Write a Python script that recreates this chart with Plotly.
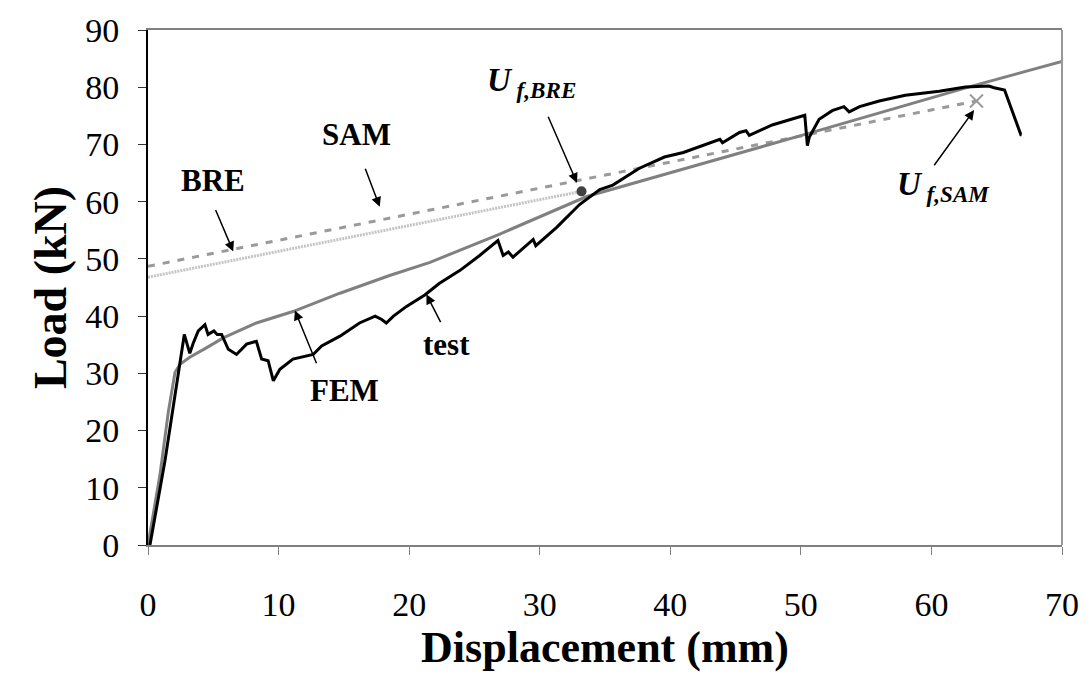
import plotly.graph_objects as go

# ---- data ----
test_x = [0.15, 0.66, 1.3, 1.68, 2.2, 2.5, 2.78, 3.2, 3.47, 3.85, 4.36, 4.6, 5.05, 5.3, 5.64, 6.15, 6.78,
          7.55, 8.3, 8.7, 9.2, 9.6, 10.1, 11.1, 12.1, 12.65, 13.3, 14.7, 16.2, 17.4, 17.9, 18.25, 18.8,
          19.8, 21.2, 22.3, 23.9, 25.4, 26.8, 27.2, 27.6, 27.95, 29.5, 29.7, 31.3, 33.05, 34.6, 35.6,
          37.6, 39.55, 41.0, 42.5, 43.8, 44.0, 45.3, 45.8, 46.05, 47.8, 49.6, 50.3, 50.5, 50.65, 51.4,
          52.4, 53.3, 53.7, 54.5, 56.0, 58.0, 60.6, 62.6, 64.4, 64.8, 65.6, 66.85, 66.9]
test_y = [0.0, 6.6, 14.7, 20.4, 27.9, 32.5, 36.8, 33.5, 35.3, 37.4, 38.5, 36.8, 37.4, 36.8, 36.8, 34.2, 33.3,
          35.1, 35.6, 32.5, 32.2, 28.7, 30.7, 32.5, 33.1, 33.3, 34.8, 36.5, 38.8, 40.0, 39.4, 38.8, 40.0,
          41.7, 43.7, 45.7, 48.0, 50.6, 53.2, 50.6, 51.2, 50.3, 53.4, 52.3, 55.5, 59.5, 62.1, 62.9,
          65.8, 67.8, 68.6, 69.8, 70.9, 70.3, 72.1, 72.4, 71.6, 73.4, 74.7, 75.1, 69.8, 71.3, 74.4,
          75.9, 76.6, 75.7, 76.6, 77.6, 78.6, 79.3, 80.05, 80.2, 79.9, 79.5, 71.7, 71.7]

fem_x = [0.0, 0.92, 1.56, 2.07, 2.45, 3.2, 4.5, 5.76, 8.3, 11.1, 14.7, 18.5, 21.6, 26.9, 33.6, 37.6,
         50.4, 63.1, 70.0]
fem_y = [0.0, 12.3, 23.3, 30.2, 31.6, 32.8, 34.5, 36.2, 38.8, 40.8, 44.0, 47.1, 49.4, 54.3, 60.9, 63.5,
         71.8, 80.2, 84.5]

bre_x = [0.0, 33.2]
bre_y = [46.8, 61.8]

sam_x = [0.0, 63.45]
sam_y = [48.7, 77.6]

x_ticks = [0, 10, 20, 30, 40, 50, 60, 70]
y_ticks = [0, 10, 20, 30, 40, 50, 60, 70, 80, 90]

FONT = "Liberation Serif, Times New Roman, serif"

fig = go.Figure()
fig.add_trace(go.Scatter(x=bre_x, y=bre_y, mode="lines",
                         line=dict(color="#c4c4c4", width=3, dash="2px,1px"), showlegend=False))
fig.add_trace(go.Scatter(x=sam_x, y=sam_y, mode="lines",
                         line=dict(color="#9a9a9a", width=3, dash="7px,8px"), showlegend=False))
fig.add_trace(go.Scatter(x=fem_x, y=fem_y, mode="lines",
                         line=dict(color="#808080", width=3), showlegend=False))
fig.add_trace(go.Scatter(x=test_x, y=test_y, mode="lines",
                         line=dict(color="#000000", width=3), showlegend=False))
fig.add_trace(go.Scatter(x=[bre_x[-1]], y=[bre_y[-1]], mode="markers",
                         marker=dict(color="#404040", size=10, symbol="circle"), showlegend=False))
fig.add_trace(go.Scatter(x=[sam_x[-1]], y=[sam_y[-1]], mode="markers",
                         marker=dict(color="#9a9a9a", size=13, symbol="x-thin",
                                     line=dict(color="#9a9a9a", width=2)), showlegend=False))

# frame: right edge in grey
fig.add_shape(type="line", xref="paper", yref="paper", x0=1, x1=1, y0=0, y1=1,
              line=dict(color="#999999", width=2))

arrows = [
    ((6.53, 51.3), (5.13, 58.8)),    # BRE
    ((17.75, 59.1), (16.6, 66.0)),   # SAM
    ((32.85, 63.3), (30.6, 75.1)),   # U f,BRE
    ((11.25, 41.0), (12.95, 31.5)),  # FEM
    ((21.32, 43.8), (22.47, 38.7)),  # test
    ((63.27, 76.0), (60.13, 66.1)),  # U f,SAM
]
for (hx, hy), (tx, ty) in arrows:
    fig.add_annotation(x=hx, y=hy, ax=tx, ay=ty, xref="x", yref="y", axref="x", ayref="y",
                       showarrow=True, arrowhead=2, arrowsize=1.3, arrowwidth=1.5,
                       arrowcolor="black", text="")

labels = [
    ("BRE", 5.0, 63.7),
    ("SAM", 15.97, 71.7),
    ("FEM", 15.07, 27.0),
    ("test", 22.85, 35.0),
]
for t, x, y in labels:
    fig.add_annotation(x=x, y=y, xref="x", yref="y", text=f"<b>{t}</b>", showarrow=False,
                       font=dict(family=FONT, size=31, color="black"))

fig.add_annotation(x=25.8, y=80.9, xref="x", yref="y", xanchor="left", yanchor="middle",
                   text="<b><i>U</i></b><sub><b><i> f,BRE</i></b></sub>", showarrow=False,
                   font=dict(family=FONT, size=33, color="black"))
fig.add_annotation(x=57.2, y=62.7, xref="x", yref="y", xanchor="left", yanchor="middle",
                   text="<b><i>U</i></b><sub><b><i> f,SAM</i></b></sub>", showarrow=False,
                   font=dict(family=FONT, size=33, color="black"))

fig.update_layout(
    width=1091, height=677,
    margin=dict(l=148, r=28, t=22, b=132),
    plot_bgcolor="white", paper_bgcolor="white",
    font=dict(family=FONT, color="black"),
    xaxis=dict(range=[0, 70], tickvals=x_ticks, ticktext=[str(v) for v in x_ticks],
               showgrid=False, zeroline=False, showline=True, linecolor="#808080", linewidth=2,
               mirror=True, ticks="outside", ticklen=8, tickcolor="#808080", tickwidth=1,
               ticklabelstandoff=20,
               tickfont=dict(family=FONT, size=34, color="black"),
               title=dict(text="<b>Displacement (mm)</b>", font=dict(family=FONT, size=44, color="black"),
                          standoff=4)),
    yaxis=dict(range=[0, 90], tickvals=y_ticks, ticktext=[str(v) for v in y_ticks],
               showgrid=False, zeroline=False, showline=True, linecolor="#000000", linewidth=2,
               ticks="outside", ticklen=8, tickcolor="#333333", tickwidth=1,
               ticklabelstandoff=12,
               tickfont=dict(family=FONT, size=34, color="black"),
               title=dict(text="<b>Load (kN)</b>", font=dict(family=FONT, size=46, color="black"),
                          standoff=4)),
)

fig.write_html("out.html")
